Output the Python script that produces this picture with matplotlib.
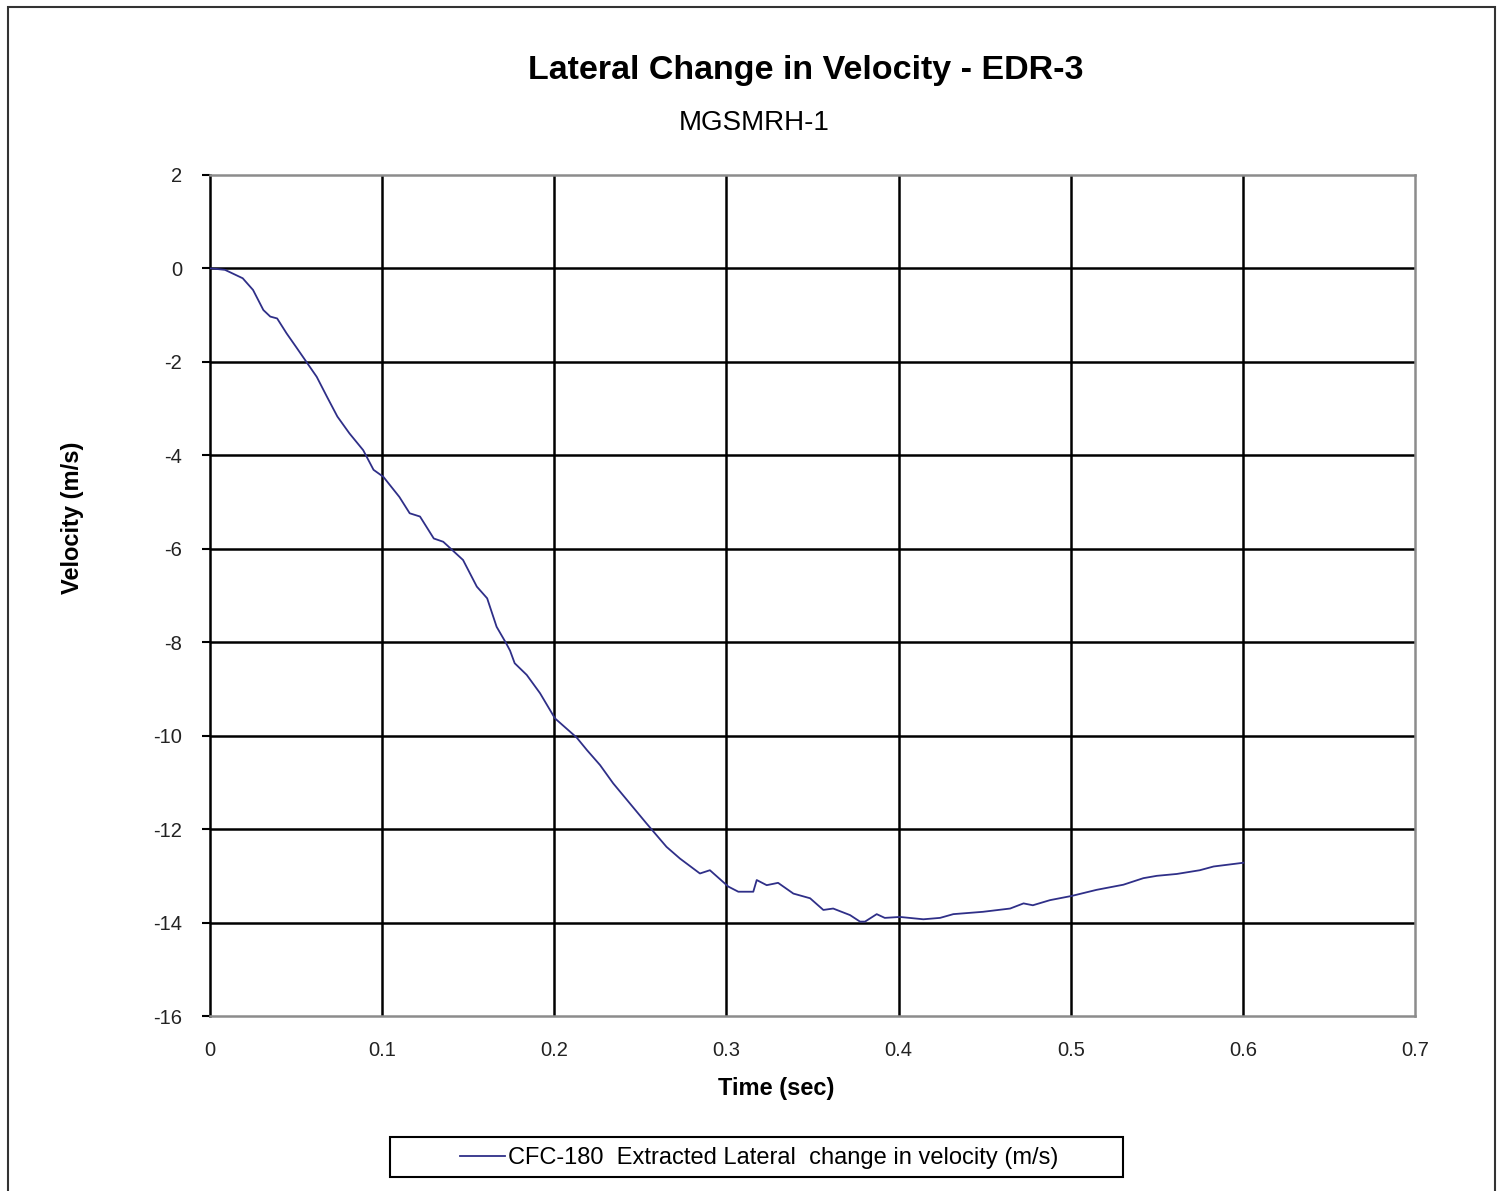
import matplotlib
matplotlib.use("Agg")
import matplotlib.pyplot as plt
from matplotlib.patches import Rectangle

plt.rcParams['font.family'] = ['Liberation Sans', 'DejaVu Sans']

# Data
time_s = [0.0, 0.001, 0.0087, 0.019, 0.025, 0.031, 0.035, 0.039, 0.0445, 0.050, 0.056,
          0.062, 0.068, 0.074, 0.081, 0.089, 0.095, 0.1007, 0.110, 0.116, 0.122, 0.130,
          0.1355, 0.147, 0.155, 0.161, 0.1665, 0.172, 0.1743, 0.177, 0.184, 0.1917, 0.2004,
          0.213, 0.219, 0.2266, 0.2342, 0.2536, 0.2652, 0.2730, 0.2846, 0.2904, 0.3011,
          0.3069, 0.3156, 0.3176, 0.3234, 0.330, 0.3389, 0.3486, 0.3563, 0.362, 0.3718,
          0.3776, 0.3805, 0.3873, 0.392, 0.4008, 0.4144, 0.4241, 0.4318, 0.449, 0.4648,
          0.4726, 0.478, 0.488, 0.5006, 0.515, 0.5306, 0.5422, 0.550, 0.5616, 0.575,
          0.583, 0.6003]
velocity = [0.0, 0.0, -0.03, -0.21, -0.46, -0.89, -1.03, -1.07, -1.39, -1.68, -2.0,
            -2.32, -2.75, -3.17, -3.53, -3.89, -4.31, -4.46, -4.89, -5.24, -5.31, -5.78,
            -5.85, -6.24, -6.81, -7.06, -7.67, -8.02, -8.18, -8.45, -8.70, -9.09, -9.63,
            -10.04, -10.31, -10.63, -11.02, -11.88, -12.38, -12.63, -12.95, -12.88, -13.23,
            -13.34, -13.34, -13.09, -13.20, -13.15, -13.38, -13.48, -13.73, -13.70, -13.84,
            -13.98, -13.98, -13.82, -13.90, -13.88, -13.93, -13.90, -13.82, -13.77, -13.70,
            -13.59, -13.63, -13.52, -13.43, -13.30, -13.19, -13.05, -13.0, -12.96, -12.88,
            -12.80, -12.72]

x_ticks = [0, 0.1, 0.2, 0.3, 0.4, 0.5, 0.6, 0.7]
x_tick_labels = ['0', '0.1', '0.2', '0.3', '0.4', '0.5', '0.6', '0.7']
y_ticks = [2, 0, -2, -4, -6, -8, -10, -12, -14, -16]
y_tick_labels = ['2', '0', '-2', '-4', '-6', '-8', '-10', '-12', '-14', '-16']

title = 'Lateral Change in Velocity - EDR-3'
subtitle = 'MGSMRH-1'
series_label = 'CFC-180  Extracted Lateral  change in velocity (m/s)'

W, H = 1497, 1191
fig = plt.figure(figsize=(W / 100, H / 100), dpi=100)
fig.patch.set_facecolor('white')

# outer chart border
fig.patches.append(Rectangle((8 / W, -0.02), (1495 - 8) / W, 1 - 7 / H + 0.02,
                             transform=fig.transFigure, fill=False,
                             edgecolor='#333333', linewidth=1.5))

ax_left, ax_right, ax_top, ax_bot = 210, 1415, 175, 1016
ax = fig.add_axes([ax_left / W, 1 - ax_bot / H, (ax_right - ax_left) / W, (ax_bot - ax_top) / H])
ax.set_xlim(0, 0.7)
ax.set_ylim(-16, 2)

# grid
for xv in x_ticks[1:-1]:
    ax.axvline(xv, color='black', linewidth=1.8, zorder=1)
for yv in y_ticks[1:-1]:
    ax.axhline(yv, color='black', linewidth=1.8, zorder=1)

line, = ax.plot(time_s, velocity, color='#2f2f88', linewidth=1.3, zorder=3,
                label=series_label)

ax.set_xticks(x_ticks)
ax.set_xticklabels(x_tick_labels)
ax.set_yticks(y_ticks)
ax.set_yticklabels(y_tick_labels)
ax.tick_params(axis='x', length=0, pad=18, labelsize=14.5, labelcolor='#222222')
ax.tick_params(axis='y', length=6, width=1.5, direction='out', pad=14,
               labelsize=14.5, labelcolor='#222222')

for side in ['top', 'right', 'bottom']:
    ax.spines[side].set_color('#8c8c8c')
    ax.spines[side].set_linewidth(1.8)
ax.spines['left'].set_color('black')
ax.spines['left'].set_linewidth(1.8)

ax.set_xlabel('Time (sec)', fontsize=17, fontweight='bold')
ax.xaxis.set_label_coords((776 - ax_left) / (ax_right - ax_left),
                          -(1089 - ax_bot) / (ax_bot - ax_top))
ax.xaxis.label.set_va('center')
ax.set_ylabel('Velocity (m/s)', fontsize=17, fontweight='bold')
ax.yaxis.set_label_coords(-(ax_left - 72) / (ax_right - ax_left),
                          (ax_bot - 518) / (ax_bot - ax_top))
ax.yaxis.label.set_va('center')

fig.text(806 / W, 1 - 70 / H, title, fontsize=24.5, fontweight='bold',
         ha='center', va='center')
fig.text(754 / W, 1 - 123 / H, subtitle, fontsize=20, ha='center', va='center')

# legend frame (Excel-style wide box) and legend content
fig.patches.append(Rectangle((390 / W, 1 - 1177 / H), (1123 - 390) / W, (1177 - 1137) / H,
                             transform=fig.transFigure, fill=False,
                             edgecolor='black', linewidth=1.5))
leg = fig.legend(handles=[line], loc='center left',
                 bbox_to_anchor=(460 / W, 1 - 1158 / H), fontsize=17,
                 frameon=False, handlelength=1.9, handletextpad=0.12,
                 borderpad=0, borderaxespad=0)

fig.savefig('out.png', dpi=100)
